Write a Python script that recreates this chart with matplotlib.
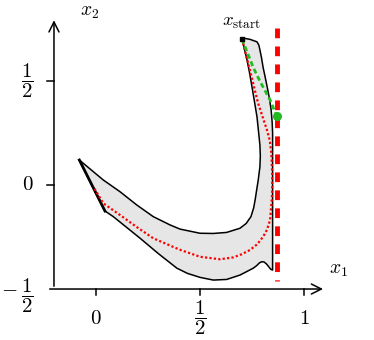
import numpy as np
import matplotlib.pyplot as plt

plt.rcParams['mathtext.fontset'] = 'cm'
plt.rcParams['font.family'] = 'serif'

# shaded reachable region (outer edge from the start, then inner edge back to the start)
region_x = [0.702, 0.74, 0.774, 0.783, 0.788, 0.796, 0.803, 0.813, 0.823, 0.833, 0.842, 0.847,
            0.849, 0.849, 0.849, 0.849,
            0.84, 0.82, 0.808, 0.796, 0.785, 0.772, 0.756, 0.692, 0.628, 0.564, 0.5, 0.44, 0.389,
            0.30, 0.212, 0.083, 0.043,
            -0.08,
            0.035, 0.115, 0.196, 0.275, 0.356, 0.404, 0.5, 0.564, 0.628, 0.692, 0.722, 0.745, 0.758,
            0.765, 0.773, 0.78, 0.788, 0.79, 0.788, 0.781, 0.774, 0.762, 0.75, 0.738, 0.726, 0.712]
region_y = [0.707, 0.70, 0.688, 0.672, 0.649, 0.61, 0.567, 0.52, 0.471, 0.42, 0.361, 0.30,
            0.25, 0.087, -0.231, -0.409,
            -0.405, -0.38, -0.37, -0.369, -0.375, -0.388, -0.40, -0.433, -0.454, -0.457, -0.444, -0.425, -0.40,
            -0.33, -0.256, -0.152, -0.125,
            0.12,
            0.024, -0.032, -0.096, -0.152, -0.192, -0.212, -0.232, -0.233, -0.228, -0.208, -0.185, -0.152, -0.11,
            -0.072, -0.02, 0.024, 0.087, 0.14, 0.192, 0.26, 0.327, 0.40, 0.471, 0.54, 0.601, 0.66]

# red dotted trajectory
traj_x = [0.702, 0.72, 0.74, 0.76, 0.779, 0.80, 0.822, 0.835, 0.843, 0.847, 0.847, 0.845, 0.837,
          0.822, 0.804, 0.775, 0.74, 0.70, 0.66, 0.596, 0.5, 0.4, 0.275, 0.2, 0.115, 0.035, -0.013]
traj_y = [0.702, 0.63, 0.553, 0.47, 0.394, 0.33, 0.264, 0.216, 0.154, 0.058, -0.03, -0.072, -0.168,
          -0.215, -0.248, -0.285, -0.3125, -0.333, -0.348, -0.357, -0.345, -0.31, -0.256, -0.205, -0.144, -0.088, -0.008]

# green dashed path to the boundary
green_x = [0.702, 0.707, 0.73, 0.755, 0.78, 0.803, 0.837, 0.868]
green_y = [0.702, 0.688, 0.63, 0.567, 0.515, 0.471, 0.409, 0.332]

x_start = (0.702, 0.702)
x_end = (0.868, 0.332)
bound_x = 0.871
bound_top, bound_bottom = 0.755, -0.46

x_ticks = [0, 0.5, 1]
x_tick_labels = [r'$0$', r'$\dfrac{1}{2}$', r'$1$']
y_ticks = [0.5, 0]
y_tick_labels = [r'$\dfrac{1}{2}$', r'$0$']

fig = plt.figure(figsize=(3.74, 3.40), dpi=100)
ax = fig.add_axes([0, 0, 1, 1])
ax.set_xlim(-0.4615, 1.3365)
ax.set_ylim(-0.745, 0.889)
ax.axis('off')

# axes with arrows
ax.annotate('', xy=(1.105, -0.5), xytext=(-0.236, -0.5),
            arrowprops=dict(arrowstyle='->', lw=1.1, color='black', mutation_scale=18))
ax.annotate('', xy=(-0.202, 0.805), xytext=(-0.202, -0.5),
            arrowprops=dict(arrowstyle='->', lw=1.1, color='black', mutation_scale=18))
for t, lab in zip(x_ticks, x_tick_labels):
    ax.plot([t, t], [-0.5, -0.53], color='black', lw=1.1)
    ax.text(t, -0.64, lab, ha='center', va='center', fontsize=15)
for t, lab in zip(y_ticks, y_tick_labels):
    ax.plot([-0.236, -0.202], [t, t], color='black', lw=1.1)
    ax.text(-0.33, t, lab, ha='center', va='center', fontsize=15)
# bottom y label sits at the x axis
ax.text(-0.415, -0.5, r'$-$', ha='center', va='center', fontsize=15)
ax.text(-0.33, -0.53, r'$\dfrac{1}{2}$', ha='center', va='center', fontsize=15)

ax.text(-0.03, 0.83, r'$x_2$', ha='center', va='center', fontsize=14)
ax.text(1.165, -0.41, r'$x_1$', ha='center', va='center', fontsize=14)
ax.text(0.702, 0.785, r'$x_{\mathrm{start}}$', ha='center', va='center', fontsize=13.5)

ax.fill(region_x, region_y, facecolor='#e6e6e6', edgecolor='black', lw=1.1, zorder=2,
        joinstyle='round')
ax.plot([-0.08, 0.043], [0.12, -0.125], color='black', lw=2, zorder=3)
ax.plot(traj_x, traj_y, color='red', ls=(0, (1, 1)), lw=1.6, zorder=4)
ax.plot(green_x, green_y, color='#22bb22', ls=(0, (1.8, 1.1)), lw=2, zorder=5)
ax.plot([bound_x, bound_x], [bound_top, bound_bottom], color='red', ls=(0, (2.0, 1.7)), lw=3.5,
        dash_capstyle='butt', zorder=7)
ax.plot(*x_end, 'o', color='#22bb22', ms=5.5, zorder=8)
ax.plot(*x_start, 's', color='black', ms=3, zorder=8)

fig.savefig('out.png', dpi=100)
